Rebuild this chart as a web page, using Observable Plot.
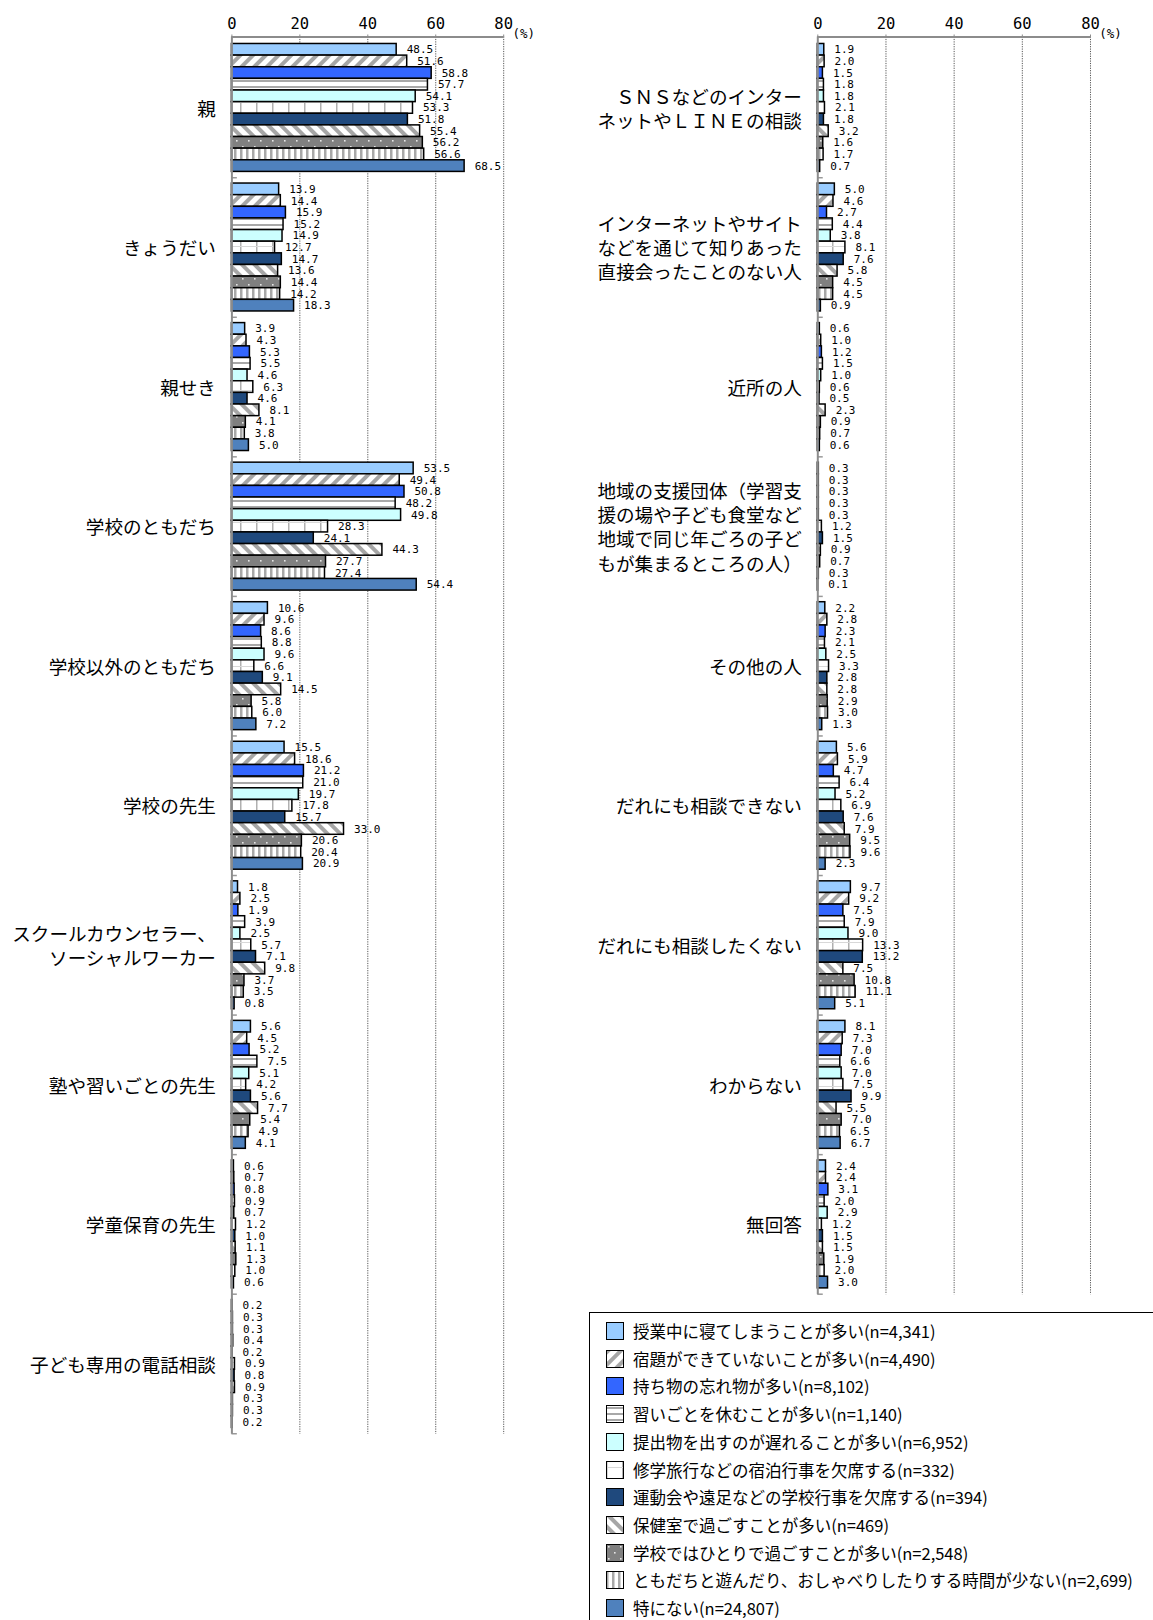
<!DOCTYPE html>
<html><head><meta charset="utf-8">
<script src="https://cdn.jsdelivr.net/npm/d3@7"></script>
<script src="https://cdn.jsdelivr.net/npm/@observablehq/plot@0.6"></script>
<style>
body{margin:0;background:#fff;}
#page{position:relative;width:1153px;height:1620px;overflow:hidden;font-family:"Noto Sans CJK JP",sans-serif;background:#fff;}
#left{position:absolute;left:0;top:0;}
#right{position:absolute;left:560px;top:0;}
#legend{position:absolute;left:589px;top:1312px;width:640px;height:340px;border:1px solid #000;box-sizing:border-box;}
.row{position:absolute;left:16px;height:18px;display:flex;align-items:center;font-size:16.5px;line-height:18px;white-space:nowrap;color:#000;}
.row svg{margin-right:9px;flex:none;}
</style></head>
<body><div id="page">
<svg width="0" height="0" style="position:absolute">
<defs>
<pattern id="pHatchR" patternUnits="userSpaceOnUse" width="9" height="9" patternTransform="rotate(45)"><rect width="9" height="9" fill="#fff"/><rect width="4" height="9" fill="#a6a6a6"/></pattern>
<pattern id="pHatchL" patternUnits="userSpaceOnUse" width="9" height="9" patternTransform="rotate(-45)"><rect width="9" height="9" fill="#fff"/><rect width="4" height="9" fill="#a6a6a6"/></pattern>
<pattern id="pHoriz" patternUnits="userSpaceOnUse" width="4" height="6"><rect width="4" height="6" fill="#fff"/><rect y="2" width="4" height="2" fill="#a8a8a8"/></pattern>
<pattern id="pVert" patternUnits="userSpaceOnUse" width="6" height="4"><rect width="6" height="4" fill="#fff"/><rect width="2.5" height="4" fill="#a8a8a8"/></pattern>
<pattern id="pGrid" patternUnits="userSpaceOnUse" width="16" height="12"><rect width="16" height="12" fill="#fff"/><rect width="1.5" height="12" fill="#b0b0b0"/><rect y="6" width="16" height="1" fill="#d8d8d8"/></pattern>
<pattern id="pDots" patternUnits="userSpaceOnUse" width="12" height="12"><rect width="12" height="12" fill="#808080"/><rect x="2" y="2" width="1.6" height="1.6" fill="#e6e6e6"/><rect x="8" y="8" width="1.6" height="1.6" fill="#e6e6e6"/></pattern>
</defs></svg>
<div id="left"></div><div id="right"></div><div id="legend"></div></div>
<script>
// ---- data ----
const series = [
  "授業中に寝てしまうことが多い(n=4,341)",
  "宿題ができていないことが多い(n=4,490)",
  "持ち物の忘れ物が多い(n=8,102)",
  "習いごとを休むことが多い(n=1,140)",
  "提出物を出すのが遅れることが多い(n=6,952)",
  "修学旅行などの宿泊行事を欠席する(n=332)",
  "運動会や遠足などの学校行事を欠席する(n=394)",
  "保健室で過ごすことが多い(n=469)",
  "学校ではひとりで過ごすことが多い(n=2,548)",
  "ともだちと遊んだり、おしゃべりしたりする時間が少ない(n=2,699)",
  "特にない(n=24,807)"
];
const fills = ["#99CCFF","url(#pHatchR)","#3366FF","url(#pHoriz)","#CCFFFF","url(#pGrid)","#1F497D","url(#pHatchL)","url(#pDots)","url(#pVert)","#4F81BD"];

const leftCategories = [
  "親","きょうだい","親せき","学校のともだち","学校以外のともだち","学校の先生",
  "スクールカウンセラー、\nソーシャルワーカー","塾や習いごとの先生","学童保育の先生","子ども専用の電話相談"
];
const parents      = [48.5,51.6,58.8,57.7,54.1,53.3,51.8,55.4,56.2,56.6,68.5];
const siblings     = [13.9,14.4,15.9,15.2,14.9,12.7,14.7,13.6,14.4,14.2,18.3];
const relatives    = [3.9,4.3,5.3,5.5,4.6,6.3,4.6,8.1,4.1,3.8,5.0];
const schoolFriends= [53.5,49.4,50.8,48.2,49.8,28.3,24.1,44.3,27.7,27.4,54.4];
const otherFriends = [10.6,9.6,8.6,8.8,9.6,6.6,9.1,14.5,5.8,6.0,7.2];
const teachers     = [15.5,18.6,21.2,21.0,19.7,17.8,15.7,33.0,20.6,20.4,20.9];
const counselors   = [1.8,2.5,1.9,3.9,2.5,5.7,7.1,9.8,3.7,3.5,0.8];
const jukuTeachers = [5.6,4.5,5.2,7.5,5.1,4.2,5.6,7.7,5.4,4.9,4.1];
const afterSchool  = [0.6,0.7,0.8,0.9,0.7,1.2,1.0,1.1,1.3,1.0,0.6];
const childLine    = [0.2,0.3,0.3,0.4,0.2,0.9,0.8,0.9,0.3,0.3,0.2];
const leftValues = [parents,siblings,relatives,schoolFriends,otherFriends,teachers,counselors,jukuTeachers,afterSchool,childLine];

const rightCategories = [
  "ＳＮＳなどのインター\nネットやＬＩＮＥの相談",
  "インターネットやサイト\nなどを通じて知りあった\n直接会ったことのない人",
  "近所の人",
  "地域の支援団体（学習支\n援の場や子ども食堂など\n地域で同じ年ごろの子ど\nもが集まるところの人）",
  "その他の人","だれにも相談できない","だれにも相談したくない","わからない","無回答"
];
const snsLine      = [1.9,2.0,1.5,1.8,1.8,2.1,1.8,3.2,1.6,1.7,0.7];
const onlineMet    = [5.0,4.6,2.7,4.4,3.8,8.1,7.6,5.8,4.5,4.5,0.9];
const neighbors    = [0.6,1.0,1.2,1.5,1.0,0.6,0.5,2.3,0.9,0.7,0.6];
const communityOrg = [0.3,0.3,0.3,0.3,0.3,1.2,1.5,0.9,0.7,0.3,0.1];
const otherPeople  = [2.2,2.8,2.3,2.1,2.5,3.3,2.8,2.8,2.9,3.0,1.3];
const cannotTalk   = [5.6,5.9,4.7,6.4,5.2,6.9,7.6,7.9,9.5,9.6,2.3];
const dontWant     = [9.7,9.2,7.5,7.9,9.0,13.3,13.2,7.5,10.8,11.1,5.1];
const dontKnow     = [8.1,7.3,7.0,6.6,7.0,7.5,9.9,5.5,7.0,6.5,6.7];
const noAnswer     = [2.4,2.4,3.1,2.0,2.9,1.2,1.5,1.5,1.9,2.0,3.0];
const rightValues = [snsLine,onlineMet,neighbors,communityOrg,otherPeople,cannotTalk,dontWant,dontKnow,noAnswer];

const xTicks = [0,20,40,60,80];

// ---- layout ----
const P = 12;          // group pitch in bar units (11 bars + 1 gap)
const UNIT = 11.63;    // px per bar unit
const Y0 = -0.6;
const MT = 36.5, MB = 16;

function panel(cats, values, {width, marginLeft, marginRight}) {
  const data = [];
  values.forEach((arr, gi) => arr.forEach((v, si) =>
    data.push({gi, si, cat: cats[gi], series: series[si], value: v, y1: gi*P + si, y2: gi*P + si + 1})));
  const centers = cats.map((c, gi) => gi*P + 5.5);
  const seps = cats.map((c, gi) => gi*P + 11.5);
  const labelOf = new Map(centers.map((c, i) => [c, cats[i]]));
  const yMax = cats.length*P - 0.45;
  const height = MT + (yMax - Y0)*UNIT + MB;
  return Plot.plot({
    width, height, marginLeft, marginRight, marginTop: MT, marginBottom: MB,
    style: {background: "transparent", overflow: "visible"},
    x: {domain: [0, 80]},
    y: {domain: [Y0, yMax], reverse: true},
    color: {type: "identity"},
    marks: [
      Plot.ruleX([20,40,60,80], {stroke: "#555", strokeDasharray: "1.2,1.2", strokeWidth: 1}),
      Plot.rect(data, {x1: () => 0, x2: "value", y1: "y1", y2: "y2", fill: d => fills[d.si], stroke: "#000", strokeWidth: 1.5}),
      Plot.text(data, {x: "value", y: d => d.y1 + 0.5, text: d => d.value.toFixed(1), dx: 10, textAnchor: "start",
        fontFamily: "DejaVu Sans Mono", fontSize: 11, fill: "#000"}),
      Plot.ruleY(seps, {x1: () => 0, x2: () => 1.6, stroke: "#999", strokeWidth: 1.5}),
      Plot.ruleX([0], {stroke: "#8c8c8c", strokeWidth: 2}),
      Plot.ruleY([Y0], {x1: () => 0, x2: () => 80, stroke: "#8c8c8c", strokeWidth: 2}),
      Plot.axisX(xTicks, {anchor: "top", tickSize: 3, tickPadding: 5, stroke: "#8c8c8c", fill: "#000",
        fontSize: 15.5, fontFamily: "DejaVu Sans Mono", label: null}),
      Plot.text(["(%)"], {x: () => 80, y: () => Y0, dx: 20, dy: -3, fontSize: 12.5, fontFamily: "DejaVu Sans Mono", fill: "#000"}),
      Plot.axisY(centers, {anchor: "left", tickSize: 0, tickPadding: 16, tickFormat: d => labelOf.get(d),
        fontSize: 18.6, fontFamily: "Noto Sans CJK JP", lineHeight: 1.3, fill: "#000", label: null})
    ]
  });
}

document.getElementById("left").appendChild(panel(leftCategories, leftValues, {width: 560, marginLeft: 231.4, marginRight: 56.8}));
document.getElementById("right").appendChild(panel(rightCategories, rightValues, {width: 593, marginLeft: 257.3, marginRight: 63}));

// ---- legend ----
const legend = document.getElementById("legend");
series.forEach((s, i) => {
  const row = document.createElement("div");
  row.className = "row";
  row.style.top = (1331 + i*27.7 - 1312 - 1 - 9) + "px";
  row.innerHTML = `<svg width="18" height="18"><rect x="0.5" y="0.5" width="17" height="17" fill="${fills[i]}" stroke="#000" stroke-width="1"/></svg><span>${s}</span>`;
  legend.appendChild(row);
});
</script>
</body></html>
